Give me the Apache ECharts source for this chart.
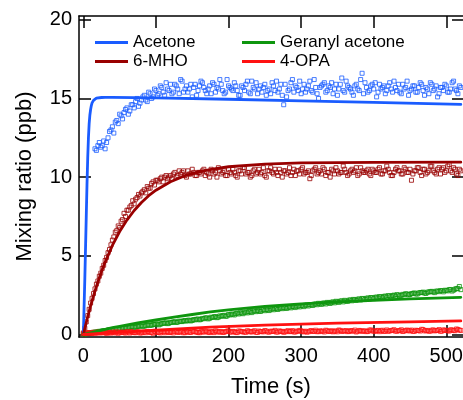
<!DOCTYPE html>
<html>
<head>
<meta charset="utf-8">
<script src="https://cdn.jsdelivr.net/npm/echarts@6/dist/echarts.min.js"></script>
<style>
  html, body { margin: 0; padding: 0; background: #fff; }
  #main { width: 463px; height: 400px; }
</style>
</head>
<body>
<div id="main"></div>
<script>
// sampling of the measured points (s): two interleaved scans, 4 s apart each
var sampleStep = 4;
var scanOffset = 2;
var acetoneStart = 16;
var otherStart = 0;

var xTicks = [0, 100, 200, 300, 400, 500];
var yTicks = [0, 5, 10, 15, 20];

// measured mixing ratios (ppb)
var acetonePtsA = [
  11.8, 12.0, 11.9, 12.3, 12.2, 12.9, 13.2, 13.5, 13.4, 13.9,
  14.1, 14.4, 14.2, 14.6, 14.8, 14.5, 14.9, 15.2, 14.8, 15.3,
  15.1, 15.5, 15.3, 15.7, 15.2, 15.6, 15.9, 15.4, 15.8, 15.3,
  16.1, 15.6, 15.4, 15.9, 15.7, 15.2, 15.8, 16.0, 15.5, 15.6,
  15.3, 15.9, 15.7, 16.2, 15.5, 15.4, 15.8, 15.6, 16.0, 15.5,
  15.2, 15.7, 15.9, 15.4, 16.1, 15.6, 15.3, 15.8, 15.7, 15.2,
  15.6, 16.0, 15.5, 15.4, 15.9, 14.6, 15.1, 15.6, 16.2, 15.8,
  15.5, 15.3, 15.9, 15.6, 16.1, 15.4, 15.7, 15.0, 15.8, 16.0,
  15.5, 15.7, 15.3, 15.9, 15.6, 16.3, 15.4, 15.8, 15.6, 15.2,
  15.9, 15.5, 16.6, 16.0, 15.4, 15.8, 15.6, 15.1, 15.9, 15.7,
  15.3, 15.8, 15.6, 16.1, 15.5, 15.4, 15.9, 15.7, 15.2, 15.6,
  15.8, 15.4, 16.0, 15.5, 15.7, 15.3, 15.9, 15.6, 15.1, 15.7,
  15.5, 15.8, 15.4, 16.0, 15.6, 15.3, 15.7
];
var acetonePtsB = [
  11.7, 12.2, 12.0, 11.8, 12.5, 13.0, 12.8, 13.6, 14.0, 13.7,
  14.3, 14.0, 14.6, 14.4, 15.0, 14.7, 15.1, 14.9, 15.4, 15.0,
  15.6, 15.2, 15.8, 15.4, 16.0, 15.5, 15.3, 15.9, 15.6, 16.2,
  15.4, 15.8, 15.6, 15.1, 15.9, 15.5, 16.1, 15.7, 15.3, 15.8,
  16.0, 15.4, 15.6, 15.9, 15.3, 16.2, 15.7, 15.5, 15.8, 15.2,
  15.8, 15.5, 16.1, 15.3, 15.7, 16.0, 15.6, 15.4, 15.9, 15.5,
  15.3, 15.8, 16.1, 15.6, 15.2, 15.9, 15.5, 16.0, 15.4, 15.7,
  16.1, 15.6, 15.4, 15.8, 15.5, 16.2, 15.3, 15.7, 15.9, 15.4,
  15.8, 16.0, 15.6, 15.2, 15.9, 15.5, 16.1, 15.7, 15.4, 15.8,
  15.6, 16.2, 15.3, 15.7, 15.5, 15.9, 16.0, 15.4, 15.6, 15.8,
  15.5, 16.0, 15.4, 15.7, 15.9, 15.3, 15.6, 16.1, 15.5, 15.8,
  15.4, 15.7, 15.9, 15.2, 15.6, 16.0, 15.5, 15.8, 15.3, 15.7,
  15.9, 15.4, 15.6, 16.1, 15.5, 15.8
];
var mhoPtsA = [
  0.1, 0.8, 1.6, 2.3, 2.9, 3.4, 3.9, 4.4, 4.9, 5.4,
  6.0, 6.5, 6.9, 7.2, 7.7, 7.9, 8.1, 8.5, 8.6, 8.9,
  9.0, 9.2, 9.4, 9.3, 9.7, 9.8, 9.7, 10.0, 10.0, 9.9,
  10.1, 10.2, 10.0, 10.4, 10.3, 10.1, 10.4, 10.2, 10.3, 10.1,
  10.3, 10.4, 10.1, 10.2, 10.5, 10.2, 10.0, 10.4, 10.3, 10.1,
  10.5, 10.2, 10.3, 10.0, 10.4, 10.6, 10.2, 10.3, 10.1, 10.5,
  10.3, 10.2, 10.6, 10.0, 10.4, 10.3, 10.5, 10.1, 10.3, 10.4,
  10.2, 10.6, 10.3, 10.1, 10.4, 10.5, 10.2, 10.3, 9.9, 10.4,
  10.6, 10.3, 10.2, 10.5, 10.3, 10.0, 10.4, 10.6, 10.2, 10.3,
  10.5, 10.1, 10.4, 10.3, 10.6, 10.2, 10.4, 10.3, 10.5, 10.1,
  10.4, 10.3, 10.6, 10.2, 10.4, 10.5, 10.1, 10.3, 10.6, 10.4,
  10.2, 10.5, 10.3, 9.8, 10.4, 10.6, 10.3, 10.5, 10.2, 10.4,
  10.7, 10.3, 10.5, 10.2, 10.6, 10.4, 10.8, 10.3, 10.5, 10.1,
  10.4
];
var mhoPtsB = [
  0.4, 1.2, 2.0, 2.6, 3.2, 3.7, 4.2, 4.7, 5.2, 5.7,
  6.2, 6.6, 6.8, 7.3, 7.5, 7.9, 8.2, 8.3, 8.7, 8.8,
  9.1, 9.0, 9.3, 9.6, 9.5, 9.8, 9.9, 9.7, 10.1, 10.0,
  9.9, 10.3, 10.1, 10.2, 10.4, 10.0, 10.2, 10.5, 10.1, 10.3,
  10.2, 10.5, 10.3, 10.0, 10.4, 10.3, 10.6, 10.2, 10.4, 10.1,
  10.3, 10.5, 10.1, 10.4, 10.2, 10.6, 10.3, 10.0, 10.4, 10.2,
  10.5, 10.3, 10.1, 10.4, 10.6, 10.2, 10.3, 10.5, 10.0, 10.4,
  10.3, 10.1, 10.5, 10.4, 10.2, 10.6, 10.3, 10.4, 10.1, 10.5,
  10.2, 10.4, 10.6, 10.1, 10.3, 10.5, 10.2, 10.4, 10.3, 10.7,
  10.3, 10.2, 10.5, 10.4, 10.1, 10.6, 10.3, 10.4, 10.2, 10.5,
  10.3, 10.5, 10.2, 10.4, 10.7, 10.3, 10.1, 10.5, 10.4, 10.2,
  10.6, 10.3, 10.5, 10.2, 10.4, 10.6, 10.1, 10.5, 10.3, 10.7,
  10.4, 10.2, 10.6, 10.5, 10.3, 10.7, 10.4, 10.6, 10.2, 10.5
];
var geranylPtsA = [
  0.02, 0.05, 0.1, 0.12, 0.15, 0.18, 0.2, 0.24, 0.25, 0.3,
  0.3, 0.34, 0.36, 0.38, 0.42, 0.41, 0.46, 0.48, 0.47, 0.52,
  0.55, 0.53, 0.6, 0.58, 0.64, 0.66, 0.61, 0.7, 0.72, 0.69,
  0.77, 0.8, 0.76, 0.85, 0.82, 0.88, 0.9, 0.86, 0.95, 0.97,
  0.93, 1.02, 1.05, 0.99, 1.1, 1.12, 1.07, 1.18, 1.2, 1.15,
  1.27, 1.3, 1.24, 1.36, 1.38, 1.32, 1.42, 1.46, 1.39, 1.5,
  1.52, 1.46, 1.57, 1.58, 1.52, 1.62, 1.66, 1.59, 1.68, 1.71,
  1.65, 1.74, 1.78, 1.71, 1.8, 1.84, 1.77, 1.87, 1.9, 1.84,
  1.94, 1.98, 1.91, 2.0, 2.04, 1.97, 2.07, 2.11, 2.04, 2.14,
  2.17, 2.1, 2.2, 2.23, 2.16, 2.26, 2.29, 2.22, 2.32, 2.35,
  2.28, 2.38, 2.41, 2.34, 2.44, 2.47, 2.4, 2.5, 2.53, 2.46,
  2.55, 2.59, 2.52, 2.6, 2.64, 2.57, 2.66, 2.69, 2.61, 2.7,
  2.74, 2.66, 2.76, 2.79, 2.71, 2.8, 2.85, 2.76, 2.88, 2.93,
  2.85
];
var geranylPtsB = [
  0.03, 0.08, 0.09, 0.14, 0.16, 0.2, 0.22, 0.23, 0.28, 0.29,
  0.32, 0.37, 0.35, 0.4, 0.44, 0.43, 0.49, 0.46, 0.5, 0.54,
  0.52, 0.57, 0.61, 0.59, 0.63, 0.67, 0.65, 0.71, 0.74, 0.72,
  0.76, 0.81, 0.79, 0.83, 0.87, 0.85, 0.91, 0.89, 0.93, 0.98,
  0.96, 1.0, 1.06, 1.03, 1.08, 1.14, 1.1, 1.15, 1.22, 1.18,
  1.24, 1.28, 1.33, 1.3, 1.36, 1.41, 1.37, 1.43, 1.48, 1.45,
  1.49, 1.55, 1.51, 1.56, 1.61, 1.57, 1.63, 1.67, 1.64, 1.69,
  1.73, 1.69, 1.76, 1.8, 1.75, 1.82, 1.86, 1.81, 1.88, 1.92,
  1.89, 1.95, 1.99, 1.94, 2.02, 2.05, 2.01, 2.08, 2.12, 2.07,
  2.13, 2.18, 2.14, 2.21, 2.24, 2.19, 2.27, 2.3, 2.25, 2.33,
  2.36, 2.31, 2.39, 2.42, 2.37, 2.45, 2.48, 2.43, 2.51, 2.49,
  2.53, 2.57, 2.54, 2.61, 2.58, 2.64, 2.67, 2.63, 2.69, 2.72,
  2.7, 2.75, 2.72, 2.78, 2.81, 2.77, 2.86, 2.82, 2.91, 3.05
];
var opaPtsA = [
  0.05, 0.08, 0.12, 0.06, 0.1, 0.15, 0.09, 0.13, 0.07, 0.11,
  0.16, 0.1, 0.08, 0.14, 0.12, 0.18, 0.09, 0.13, 0.11, 0.17,
  0.1, 0.14, 0.2, 0.12, 0.08, 0.15, 0.13, 0.19, 0.11, 0.16,
  0.14, 0.1, 0.18, 0.15, 0.21, 0.12, 0.16, 0.13, 0.19, 0.15,
  0.11, 0.17, 0.22, 0.14, 0.18, 0.12, 0.2, 0.16, 0.13, 0.19,
  0.23, 0.15, 0.18, 0.12, 0.21, 0.17, 0.14, 0.2, 0.16, 0.24,
  0.13, 0.19, 0.17, 0.22, 0.15, 0.2, 0.26, 0.16, 0.19, 0.14,
  0.21, 0.18, 0.25, 0.16, 0.2, 0.23, 0.17, 0.15, 0.22, 0.19,
  0.27, 0.18, 0.21, 0.16, 0.24, 0.2, 0.17, 0.23, 0.28, 0.19,
  0.22, 0.18, 0.25, 0.21, 0.16, 0.26, 0.2, 0.23, 0.19, 0.29,
  0.21, 0.24, 0.18, 0.27, 0.22, 0.2, 0.25, 0.3, 0.21, 0.24,
  0.19, 0.26, 0.23, 0.28, 0.2, 0.25, 0.22, 0.31, 0.24, 0.21,
  0.27, 0.23, 0.26, 0.2, 0.29, 0.25, 0.22, 0.28, 0.24, 0.32,
  0.26
];
var opaPtsB = [
  0.07, 0.11, 0.09, 0.14, 0.08, 0.12, 0.16, 0.1, 0.13, 0.09,
  0.12, 0.17, 0.11, 0.15, 0.09, 0.14, 0.19, 0.12, 0.16, 0.1,
  0.15, 0.11, 0.17, 0.13, 0.2, 0.14, 0.1, 0.16, 0.18, 0.12,
  0.17, 0.21, 0.13, 0.16, 0.11, 0.19, 0.14, 0.22, 0.17, 0.13,
  0.18, 0.15, 0.2, 0.12, 0.17, 0.23, 0.15, 0.19, 0.14, 0.21,
  0.16, 0.2, 0.13, 0.22, 0.18, 0.15, 0.24, 0.17, 0.2, 0.14,
  0.22, 0.18, 0.25, 0.16, 0.21, 0.19, 0.15, 0.23, 0.2, 0.17,
  0.24, 0.19, 0.16, 0.22, 0.26, 0.18, 0.21, 0.17, 0.25, 0.2,
  0.18, 0.23, 0.21, 0.27, 0.19, 0.24, 0.2, 0.17, 0.26, 0.22,
  0.25, 0.19, 0.23, 0.28, 0.2, 0.24, 0.22, 0.18, 0.27, 0.23,
  0.2, 0.26, 0.24, 0.19, 0.29, 0.23, 0.27, 0.21, 0.25, 0.3,
  0.22, 0.28, 0.24, 0.2, 0.27, 0.25, 0.33, 0.23, 0.26, 0.21,
  0.29, 0.25, 0.31, 0.22, 0.27, 0.24, 0.3, 0.26, 0.35, 0.28
];

// model fits
var acetoneFitT = [0, 2, 4, 5, 6, 7, 8, 9, 10, 11, 12, 14, 16, 18, 20, 25, 30, 40, 100, 200, 300, 400, 520];
var acetoneFitV = [0, 3.5, 7.5, 9.5, 11.2, 12.5, 13.4, 13.95, 14.3, 14.55, 14.72, 14.88, 14.97, 15.02, 15.05, 15.06, 15.07, 15.07, 15.04, 14.95, 14.85, 14.75, 14.62];
var mhoFitT = [0, 5, 10, 15, 20, 25, 30, 40, 50, 60, 70, 80, 90, 100, 120, 140, 160, 180, 200, 250, 300, 400, 520];
var mhoFitV = [0, 0.95, 1.82, 2.61, 3.34, 4.0, 4.6, 5.66, 6.54, 7.27, 7.88, 8.39, 8.82, 9.17, 9.71, 10.09, 10.35, 10.53, 10.66, 10.83, 10.9, 10.94, 10.95];
var geranylFitT = [0, 10, 20, 30, 40, 50, 75, 100, 125, 150, 175, 200, 250, 300, 350, 400, 450, 520];
var geranylFitV = [0, 0.11, 0.22, 0.33, 0.43, 0.52, 0.73, 0.92, 1.1, 1.27, 1.43, 1.57, 1.79, 1.95, 2.07, 2.17, 2.26, 2.36];
var opaFitT = [0, 50, 100, 175, 250, 350, 450, 520];
var opaFitV = [0, 0.14, 0.27, 0.47, 0.6, 0.72, 0.8, 0.86];

var colAcetone = '#1a5cff';
var colMho = '#990000';
var colGeranyl = '#0e960e';
var colOpa = '#ff1111';
var font = 'Liberation Sans, Arial, sans-serif';

// both scans of one compound as [t, value] pairs
function pts(start, valsA, valsB) {
  var out = [];
  valsA.forEach(function (v, i) { out.push([start + i * sampleStep, v]); });
  valsB.forEach(function (v, i) { out.push([start + scanOffset + i * sampleStep, v]); });
  return out;
}
function pairs(ts, vs) {
  return ts.map(function (t, i) { return [t, vs[i]]; });
}
function scatter(name, data, color) {
  return {
    name: name, type: 'scatter', data: data, symbol: 'rect', symbolSize: 4,
    itemStyle: { color: 'rgba(255,255,255,0)', borderColor: color, borderWidth: 1 },
    z: 2
  };
}
function fit(name, data, color) {
  return {
    name: name, type: 'line', data: data, showSymbol: false, symbol: 'none',
    smooth: false, color: color,
    lineStyle: { color: color, width: 2.8, join: 'round', cap: 'round' }, z: 3
  };
}

var chart = echarts.init(document.getElementById('main'));
var tickLine = { color: '#000', width: 1.5 };
var option = {
  animation: false,
  backgroundColor: '#fff',
  grid: { left: 79, right: 0, top: 16, bottom: 63, outerBoundsMode: 'none' },
  legend: [
    {
      orient: 'vertical', left: 95, top: 33, padding: 0, itemGap: 0,
      itemWidth: 33, itemHeight: 3, icon: 'rect', selectedMode: false,
      textStyle: { fontSize: 17, color: '#000', fontFamily: font, lineHeight: 19 },
      data: ['Acetone', '6-MHO']
    },
    {
      orient: 'vertical', left: 242, top: 33, padding: 0, itemGap: 0,
      itemWidth: 33, itemHeight: 3, icon: 'rect', selectedMode: false,
      textStyle: { fontSize: 17, color: '#000', fontFamily: font, lineHeight: 19 },
      data: ['Geranyl acetone', '4-OPA']
    }
  ],
  xAxis: [
    {
      type: 'value', position: 'bottom', min: -6, max: 523,
      name: 'Time (s)', nameLocation: 'middle', nameGap: 39,
      nameTextStyle: { fontSize: 22, color: '#000', fontFamily: font },
      axisLine: { show: true, onZero: false, lineStyle: tickLine },
      axisTick: { show: true, inside: true, length: 12, customValues: xTicks, lineStyle: tickLine },
      axisLabel: { customValues: xTicks, fontSize: 20, color: '#000', margin: 9, fontFamily: font },
      splitLine: { show: false }
    },
    {
      type: 'value', position: 'top', min: -6, max: 523,
      axisLine: { show: true, onZero: false, lineStyle: tickLine },
      axisTick: { show: true, inside: true, length: 12, customValues: xTicks, lineStyle: tickLine },
      axisLabel: { show: false },
      splitLine: { show: false }
    }
  ],
  yAxis: [
    {
      type: 'value', position: 'left', min: -0.16, max: 20.24,
      name: 'Mixing ratio (ppb)', nameLocation: 'middle', nameGap: 43,
      nameTextStyle: { fontSize: 22, color: '#000', fontFamily: font },
      axisLine: { show: true, onZero: false, lineStyle: tickLine },
      axisTick: { show: true, inside: true, length: 12, customValues: yTicks, lineStyle: tickLine },
      axisLabel: { customValues: yTicks, fontSize: 20, color: '#000', margin: 7, fontFamily: font },
      splitLine: { show: false }
    },
    {
      type: 'value', position: 'right', min: -0.16, max: 20.24,
      axisLine: { show: false, onZero: false },
      axisTick: { show: true, inside: true, length: 11, customValues: yTicks, lineStyle: tickLine },
      axisLabel: { show: false },
      splitLine: { show: false }
    }
  ],
  series: [
    scatter('Acetone data', pts(acetoneStart, acetonePtsA, acetonePtsB), colAcetone),
    scatter('6-MHO data', pts(otherStart, mhoPtsA, mhoPtsB), colMho),
    scatter('Geranyl acetone data', pts(otherStart, geranylPtsA, geranylPtsB), colGeranyl),
    scatter('4-OPA data', pts(otherStart, opaPtsA, opaPtsB), colOpa),
    fit('Acetone', pairs(acetoneFitT, acetoneFitV), colAcetone),
    fit('6-MHO', pairs(mhoFitT, mhoFitV), colMho),
    fit('Geranyl acetone', pairs(geranylFitT, geranylFitV), colGeranyl),
    fit('4-OPA', pairs(opaFitT, opaFitV), colOpa)
  ]
};
chart.setOption(option);
window.addEventListener('resize', function () { chart.resize(); });
</script>
</body>
</html>
